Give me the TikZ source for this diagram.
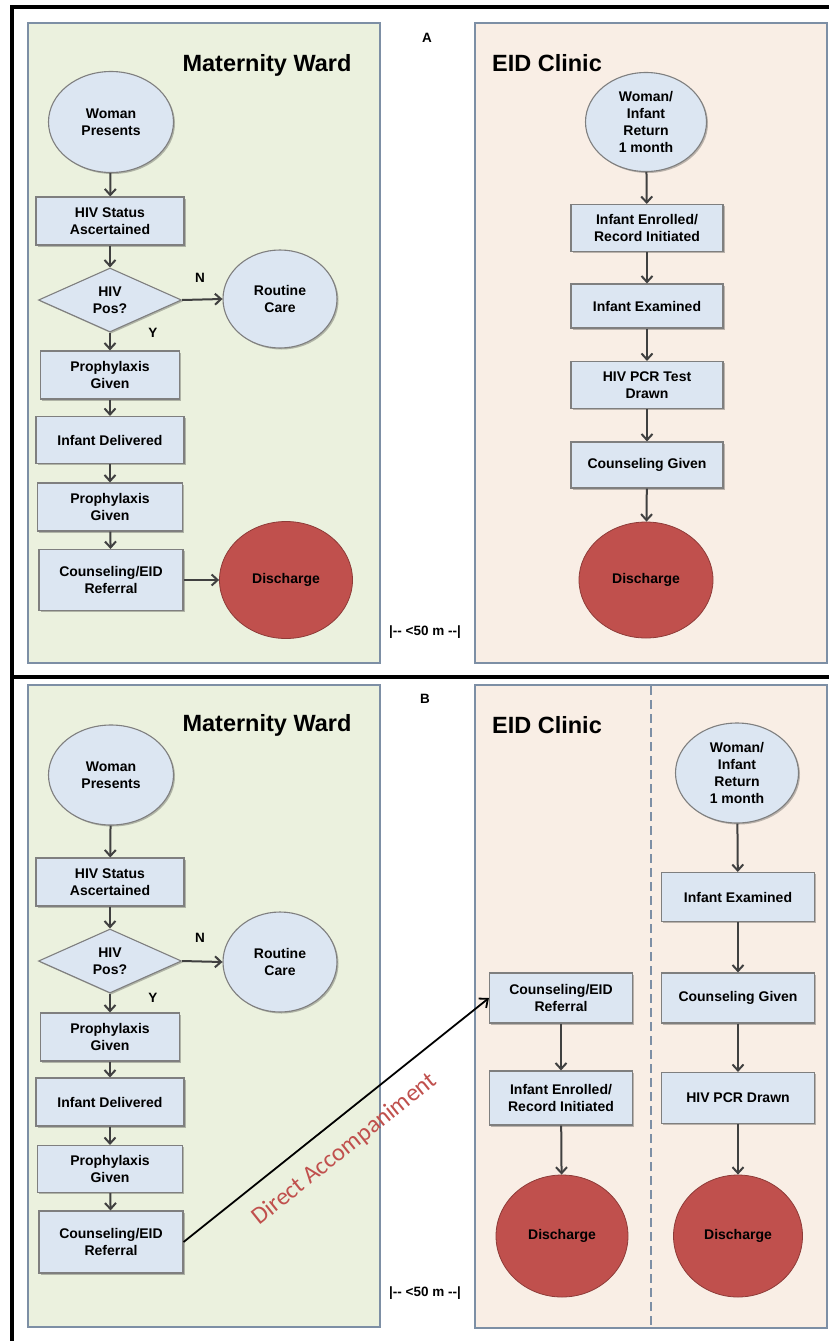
\documentclass[tikz,border=0pt]{standalone}
\usepackage{fontspec}
\setmainfont{Liberation Sans}
\newfontfamily\calfont{Carlito}
\usetikzlibrary{shapes.geometric,arrows.meta,shadows}
\definecolor{greenf}{HTML}{EBF1DE}
\definecolor{peachf}{HTML}{F9EEE5}
\definecolor{panelb}{HTML}{7D8FA5}
\definecolor{boxf}{HTML}{DCE6F2}
\definecolor{boxb}{HTML}{7F7F7F}
\definecolor{redf}{HTML}{C0504D}
\definecolor{redb}{HTML}{8E3B38}
\definecolor{arrc}{HTML}{404040}
\definecolor{acctxt}{HTML}{C0504D}
\newcommand\nfnt{\bfseries\fontsize{14}{16.7}\selectfont}
\newcommand\tfnt{\bfseries\fontsize{23.5}{27}\selectfont}
\begin{document}
\begin{tikzpicture}[x=1pt,y=-1pt,
  panelG/.style={draw=panelb, line width=1.8pt, fill=greenf},
  panelP/.style={draw=panelb, line width=1.8pt, fill=peachf},
  shad/.style={drop shadow={shadow xshift=1.5pt, shadow yshift=-1.5pt, fill=black, opacity=0.25}},
  box/.style={rectangle, draw=boxb, line width=1.1pt, fill=boxf, align=center, font=\nfnt, inner sep=0pt, shad},
  oval/.style={ellipse, draw=boxb, line width=1.1pt, fill=boxf, align=center, font=\nfnt, inner sep=0pt, shad},
  disc/.style={ellipse, draw=redb, line width=0.8pt, fill=redf, align=center, font=\nfnt, inner sep=0pt},
  dia/.style={diamond, draw=boxb, line width=1.1pt, fill=boxf, align=center, font=\nfnt, inner sep=0pt, aspect=2.2, shad},
  ttl/.style={font=\tfnt, inner sep=0pt},
  lbl/.style={font=\bfseries\fontsize{13.5}{15}\selectfont, inner sep=0pt},
  arr/.style={draw=arrc, line width=2pt, -{Straight Barb[length=6pt,width=11pt]}},
  darr/.style={draw=black, line width=1.8pt, -{Straight Barb[length=7pt,width=12pt]}},
]
\useasboundingbox (0,0) rectangle (829,1341);
\fill[white] (0,0) rectangle (829,1341);
% outer frame
\draw[black, line width=3.5pt] (12,1341) -- (12,7) -- (829,7);
\draw[black, line width=3.5pt] (12,677) -- (829,677);
% panels
\draw[panelG] (28,23) rectangle (380,663);
\draw[panelP] (475,23) rectangle (827,663);
\draw[panelG] (28,685) rectangle (380,1327);
\draw[panelP] (475,685) rectangle (827,1328);
\draw[draw=panelb, line width=1.4pt, dash pattern=on 9pt off 5pt] (651,686) -- (651,1327);

% ---------- A ----------
\node[lbl] (labA) at (427,38) {A};
\node[ttl] (mwA) at (267,65) {Maternity Ward};
\node[ttl] (ecA) at (547,63) {EID Clinic};
\node[oval, minimum width=125pt, minimum height=101pt] (wpA) at (111,122) {Woman\\Presents};
\node[box, minimum width=148pt, minimum height=48pt] (hsA) at (110,221) {HIV Status\\Ascertained};
\node[dia, minimum width=143pt, minimum height=64pt] (dA) at (110,300) {HIV\\Pos?};
\node[oval, minimum width=114pt, minimum height=98pt] (rcA) at (280,299) {Routine\\Care};
\node[box, minimum width=139pt, minimum height=48pt] (pg1A) at (110,375) {Prophylaxis\\Given};
\node[box, minimum width=148pt, minimum height=47pt] (idA) at (110,440) {Infant Delivered};
\node[box, minimum width=145pt, minimum height=48pt] (pg2A) at (110,507) {Prophylaxis\\Given};
\node[box, minimum width=144pt, minimum height=61pt] (ceA) at (111,580) {Counseling/EID\\Referral};
\node[disc, minimum width=133pt, minimum height=117pt] (dsA) at (286,580) {Discharge};
\node[lbl] (nA) at (200,278) {N};
\node[lbl] (yA) at (153,333) {Y};
\node[lbl] (distA) at (425,632) {|-{}- <50 m -{}-|};

\node[oval, minimum width=121pt, minimum height=99pt] (wrA) at (646,122) {Woman/\\Infant\\Return\\1 month};
\node[box, minimum width=152pt, minimum height=47pt] (enA) at (647,228) {Infant Enrolled/\\Record Initiated};
\node[box, minimum width=152pt, minimum height=44pt] (exA) at (647,306) {Infant Examined};
\node[box, minimum width=152pt, minimum height=47pt] (pcA) at (647,385) {HIV PCR Test\\Drawn};
\node[box, minimum width=152pt, minimum height=46pt] (cgA) at (647,465) {Counseling Given};
\node[disc, minimum width=134pt, minimum height=116pt] (ds2A) at (646,580) {Discharge};

\draw[arr] (wpA) -- (hsA);
\draw[arr] (hsA) -- (dA);
\draw[arr] (dA.east) -- (rcA.west);
\draw[arr] (dA.south) -- (pg1A.north);
\draw[arr] (pg1A) -- (idA);
\draw[arr] (idA) -- (pg2A);
\draw[arr] (pg2A) -- (ceA);
\draw[arr] (ceA.east) -- (dsA.west);
\draw[arr] (wrA) -- (enA);
\draw[arr] (enA) -- (exA);
\draw[arr] (exA) -- (pcA);
\draw[arr] (pcA) -- (cgA);
\draw[arr] (cgA) -- (ds2A);

% ---------- B ----------
\node[lbl] (labB) at (425,699) {B};
\node[ttl] (mwB) at (267,725) {Maternity Ward};
\node[ttl] (ecB) at (547,725) {EID Clinic};
\node[oval, minimum width=125pt, minimum height=100pt] (wpB) at (111,775) {Woman\\Presents};
\node[box, minimum width=148pt, minimum height=48pt] (hsB) at (110,882) {HIV Status\\Ascertained};
\node[dia, minimum width=143pt, minimum height=64pt] (dB) at (110,961) {HIV\\Pos?};
\node[oval, minimum width=114pt, minimum height=100pt] (rcB) at (280,962) {Routine\\Care};
\node[box, minimum width=139pt, minimum height=48pt] (pg1B) at (110,1037) {Prophylaxis\\Given};
\node[box, minimum width=148pt, minimum height=48pt] (idB) at (110,1102) {Infant Delivered};
\node[box, minimum width=145pt, minimum height=47pt] (pg2B) at (110,1169) {Prophylaxis\\Given};
\node[box, minimum width=144pt, minimum height=62pt] (ceB) at (111,1242) {Counseling/EID\\Referral};
\node[lbl] (nB) at (200,938) {N};
\node[lbl] (yB) at (153,998) {Y};
\node[lbl] (distB) at (425,1293) {|-{}- <50 m -{}-|};

\node[box, minimum width=143pt, minimum height=50pt] (ce2B) at (561,998) {Counseling/EID\\Referral};
\node[box, minimum width=143pt, minimum height=54pt] (enB) at (561,1098) {Infant Enrolled/\\Record Initiated};
\node[disc, minimum width=132pt, minimum height=122pt] (ds1B) at (562,1236) {Discharge};

\node[oval, minimum width=123pt, minimum height=100pt] (wrB) at (737,773) {Woman/\\Infant\\Return\\1 month};
\node[box, minimum width=153pt, minimum height=49pt] (exB) at (738,897) {Infant Examined};
\node[box, minimum width=153pt, minimum height=50pt] (cgB) at (738,998) {Counseling Given};
\node[box, minimum width=153pt, minimum height=51pt] (pcB) at (738,1098) {HIV PCR Drawn};
\node[disc, minimum width=129pt, minimum height=122pt] (ds2B) at (738,1236) {Discharge};

\draw[arr] (wpB) -- (hsB);
\draw[arr] (hsB) -- (dB);
\draw[arr] (dB.east) -- (rcB.west);
\draw[arr] (dB.south) -- (pg1B.north);
\draw[arr] (pg1B) -- (idB);
\draw[arr] (idB) -- (pg2B);
\draw[arr] (pg2B) -- (ceB);
\draw[arr] (ce2B) -- (enB);
\draw[arr] (enB) -- (ds1B);
\draw[arr] (wrB) -- (exB);
\draw[arr] (exB) -- (cgB);
\draw[arr] (cgB) -- (pcB);
\draw[arr] (pcB) -- (ds2B);

\draw[darr] (ceB.east) -- node[pos=0.47, sloped, below=17pt, inner sep=0pt, font=\calfont\fontsize{24.5}{28}\selectfont, text=acctxt] (acc) {Direct Accompaniment} (ce2B.west);
\end{tikzpicture}
\end{document}
